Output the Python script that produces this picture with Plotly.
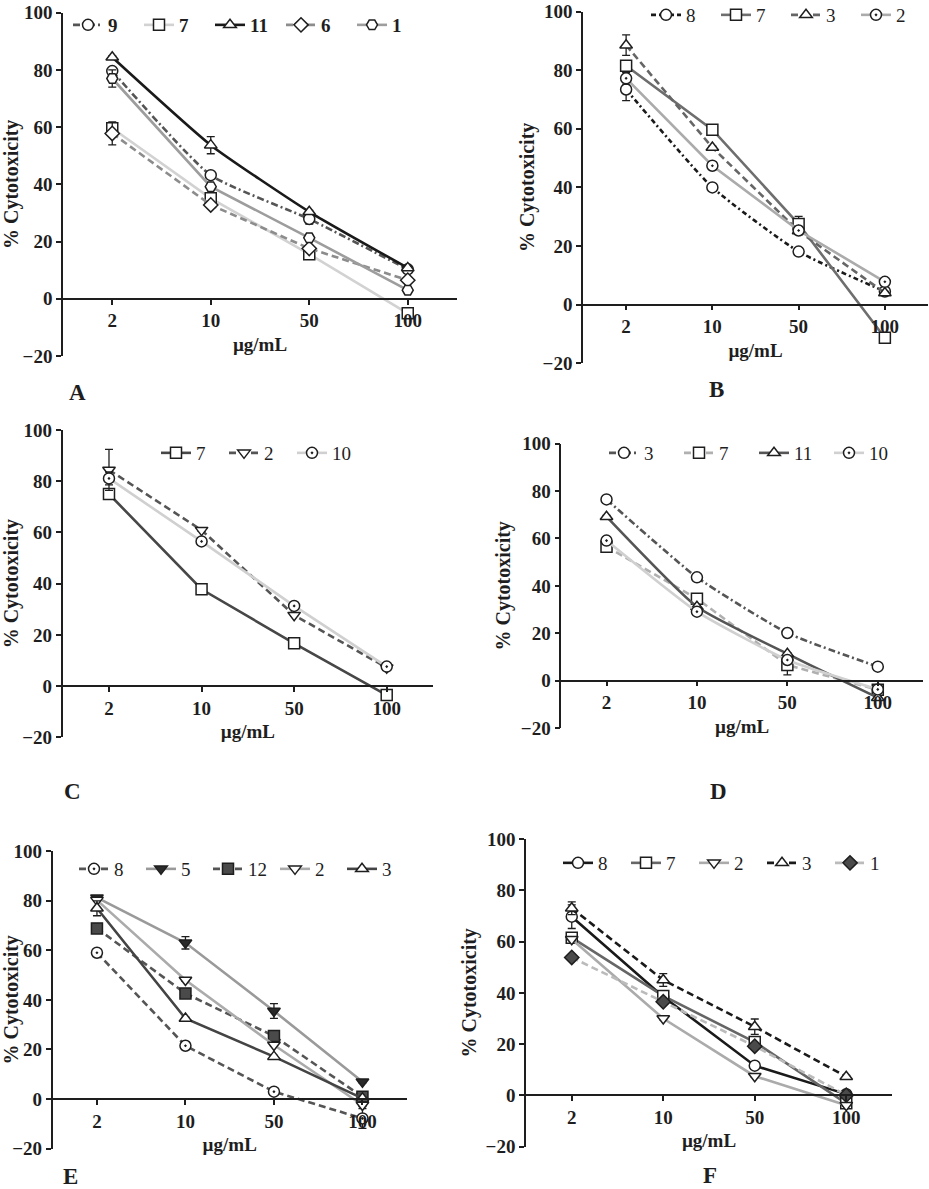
import plotly.graph_objects as go

W, H = 929, 1189
CONC = ["2", "10", "50", "100"]
Y_TICKS = [-20, 0, 20, 40, 60, 80, 100]

# ---------------- data (% cytotoxicity) ----------------
# Panel A
A_9 = [79.6, 43.2, 27.9, 10.3]
A_7 = [59.6, 35.1, 15.6, -5.1]
A_11 = [84.4, 53.7, 30.4, 10.8]
A_6 = [57.8, 32.8, 17.6, 6.5]
A_1 = [77.0, 39.2, 21.3, 3.0]
A_9_ERR = [1.0, 0.5, 1.8, 0.5]
A_7_ERR = [2.0, 0.5, 0.5, 0.5]
A_11_ERR = [0.5, 3.0, 0.5, 0.5]
A_6_ERR = [4.0, 0.5, 0.5, 0.5]
A_1_ERR = [3.0, 0.5, 0.5, 0.5]

# Panel B
B_8 = [73.4, 40.0, 18.1, 4.5]
B_7 = [81.5, 59.7, 27.5, -11.3]
B_3 = [88.5, 53.6, 25.1, 4.0]
B_2 = [77.2, 47.4, 25.3, 7.8]
B_8_ERR = [3.8, 0.5, 0.5, 0.5]
B_7_ERR = [1.0, 0.5, 2.6, 0.5]
B_3_ERR = [3.5, 0.5, 0.5, 0.5]
B_2_ERR = [2.0, 0.5, 0.5, 0.5]

# Panel C
C_7 = [75.0, 37.8, 16.7, -3.5]
C_2 = [84.4, 60.9, 27.7, 7.2]
C_10 = [81.1, 56.5, 31.3, 7.6]
C_7_ERR = [0.5, 0.5, 0.5, 0.5]
C_2_ERR = [8.0, 0.5, 0.5, 0.5]
C_10_ERR = [2.5, 0.5, 0.5, 0.5]

# Panel D
D_3 = [76.5, 43.6, 20.1, 5.9]
D_7 = [56.5, 34.6, 6.6, -3.9]
D_11 = [69.2, 31.2, 11.3, -7.2]
D_10 = [59.1, 29.1, 8.7, -3.7]
D_3_ERR = [0.5, 0.5, 0.5, 0.5]
D_7_ERR = [0.5, 0.5, 4.2, 0.5]
D_11_ERR = [0.5, 0.5, 0.5, 0.5]
D_10_ERR = [0.5, 0.5, 0.5, 0.5]

# Panel E
E_8 = [59.0, 21.5, 3.0, -7.8]
E_5 = [81.2, 63.0, 35.5, 7.0]
E_12 = [68.8, 42.6, 25.4, 0.9]
E_2 = [80.2, 48.0, 21.8, -2.4]
E_3 = [76.9, 32.5, 17.1, 0.3]
E_8_ERR = [0.5, 0.5, 0.5, 4.0]
E_5_ERR = [0.5, 2.5, 3.0, 0.5]
E_12_ERR = [0.5, 0.5, 0.5, 0.5]
E_2_ERR = [0.5, 0.5, 0.5, 0.5]
E_3_ERR = [3.0, 0.5, 0.5, 0.5]

# Panel F
F_8 = [69.7, 38.5, 11.6, 0.5]
F_7 = [61.5, 38.8, 20.8, -3.1]
F_2 = [60.9, 30.0, 7.5, -3.8]
F_3 = [73.0, 45.0, 26.8, 7.3]
F_1 = [53.8, 36.5, 19.2, 0.1]
F_8_ERR = [4.6, 0.5, 0.5, 0.5]
F_7_ERR = [0.5, 0.5, 0.5, 0.5]
F_2_ERR = [0.5, 0.5, 0.5, 0.5]
F_3_ERR = [2.5, 2.5, 3.0, 0.5]
F_1_ERR = [0.5, 0.5, 0.5, 0.5]

# ---------------- styles ----------------
DASHDOT = "7px,3px,2px,3px"
DENSE_DASHDOT = "5px,3px,2px,3px"
DASH = "7px,4px"

# (name, values, errors, line color, dash, symbol, marker fill, spline)
PANELS = {
    "A": dict(box=(63, 457, 12.7, 356), label=(77, 392), bold_legend=True,
              legend=(68, 25), entry=26, ystand=6,
              series=[("9", A_9, A_9_ERR, "#555555", DASHDOT, "circle", "white", True),
                      ("7", A_7, A_7_ERR, "#d2d2d2", "solid", "square", "white", False),
                      ("11", A_11, A_11_ERR, "#1a1a1a", "solid", "triangle-up", "white", True),
                      ("6", A_6, A_6_ERR, "#8c8c8c", DASH, "diamond", "white", False),
                      ("1", A_1, A_1_ERR, "#9d9d9d", "solid", "hexagon2", "white", False)]),
    "B": dict(box=(583, 928, 11.5, 363.3), label=(716, 389), bold_legend=False,
              legend=(646, 15), entry=25, ystand=3,
              series=[("8", B_8, B_8_ERR, "#1a1a1a", DENSE_DASHDOT, "circle", "white", True),
                      ("7", B_7, B_7_ERR, "#6e6e6e", "solid", "square", "white", False),
                      ("3", B_3, B_3_ERR, "#666666", DASH, "triangle-up", "white", False),
                      ("2", B_2, B_2_ERR, "#ababab", "solid", "circle-dot", "white", False)]),
    "C": dict(box=(62.7, 433, 430, 737.3), label=(72, 791), bold_legend=False,
              legend=(156, 453), entry=23, ystand=6,
              series=[("7", C_7, C_7_ERR, "#474747", "solid", "square", "white", False),
                      ("2", C_2, C_2_ERR, "#555555", DASH, "triangle-down", "white", False),
                      ("10", C_10, C_10_ERR, "#d0d0d0", "solid", "circle-dot", "white", False)]),
    "D": dict(box=(561.3, 923, 443.7, 728), label=(718, 791), bold_legend=False,
              legend=(604, 453), entry=30, ystand=5,
              series=[("3", D_3, D_3_ERR, "#555555", DASHDOT, "circle", "white", True),
                      ("7", D_7, D_7_ERR, "#b0b0b0", DASH, "square", "white", False),
                      ("11", D_11, D_11_ERR, "#555555", "solid", "triangle-up", "white", True),
                      ("10", D_10, D_10_ERR, "#d0d0d0", "solid", "circle-dot", "white", True)]),
    "E": dict(box=(52.7, 406.7, 851, 1148.7), label=(70, 1176), bold_legend=False,
              legend=(74, 869), entry=22, ystand=2,
              series=[("8", E_8, E_8_ERR, "#555555", DASH, "circle-dot", "white", False),
                      ("5", E_5, E_5_ERR, "#9a9a9a", "solid", "triangle-down", "#2a2a2a", False),
                      ("12", E_12, E_12_ERR, "#555555", DASH, "square", "#4a4a4a", False),
                      ("2", E_2, E_2_ERR, "#ababab", "solid", "triangle-down", "white", False),
                      ("3", E_3, E_3_ERR, "#444444", "solid", "triangle-up", "white", False)]),
    "F": dict(box=(526, 892, 839, 1146.7), label=(710, 1175), bold_legend=False,
              legend=(558, 863), entry=23, ystand=4,
              series=[("8", F_8, F_8_ERR, "#1a1a1a", "solid", "circle", "white", False),
                      ("7", F_7, F_7_ERR, "#666666", "solid", "square", "white", False),
                      ("2", F_2, F_2_ERR, "#ababab", "solid", "triangle-down", "white", False),
                      ("3", F_3, F_3_ERR, "#1a1a1a", DASH, "triangle-up", "white", False),
                      ("1", F_1, F_1_ERR, "#bbbbbb", DASH, "diamond", "#4a4a4a", False)]),
}

SERIF = "Liberation Serif"
INK = "#1e1e1e"
Y_MIN, Y_MAX = -20, 100


def px_x(v):
    return v / W


def px_y(v):
    return 1 - v / H


fig = go.Figure()
layout = dict(width=W, height=H,
              margin=dict(l=0, r=0, t=0, b=0, pad=0, autoexpand=False),
              paper_bgcolor="white", plot_bgcolor="white", showlegend=True,
              annotations=[])

for i, (key, p) in enumerate(PANELS.items(), start=1):
    x0, x1, ytop, ybot = p["box"]
    xd = [px_x(x0), px_x(x1)]
    yd = [px_y(ybot), px_y(ytop)]
    zero_pos = yd[0] + (0 - Y_MIN) / (Y_MAX - Y_MIN) * (yd[1] - yd[0])
    sfx = "" if i == 1 else str(i)
    leg = "legend" if i == 1 else f"legend{i}"
    for name, vals, err, col, dash, sym, fill, spline in p["series"]:
        fig.add_trace(go.Scatter(
            x=CONC, y=vals, name=name, mode="lines+markers",
            xaxis=f"x{sfx}", yaxis=f"y{sfx}", legend=leg, cliponaxis=False,
            line=dict(color=col, width=2.6, dash=dash,
                      shape="spline" if spline else "linear", smoothing=0.5),
            marker=dict(symbol=sym, size=11, color=fill,
                        line=dict(color=INK, width=1.5)),
            error_y=dict(type="data", array=err, visible=True, color=INK,
                         thickness=1.3, width=4),
        ))
    layout[f"xaxis{sfx}"] = dict(
        domain=xd, type="category", range=[-0.5, 3.5], anchor="free",
        position=zero_pos, showline=True, linecolor=INK, linewidth=1.6,
        ticks="outside", ticklen=5, tickwidth=1.5, tickcolor=INK,
        showgrid=False, zeroline=False, automargin=False,
        ticklabeloverflow="allow",
        tickfont=dict(family=SERIF, size=19, color=INK, weight="bold"),
        title=dict(text="µg/mL", standoff=6,
                   font=dict(family=SERIF, size=19, color=INK, weight="bold")),
    )
    layout[f"yaxis{sfx}"] = dict(
        domain=yd, range=[Y_MIN, Y_MAX], tickvals=Y_TICKS, anchor=f"x{sfx}",
        showline=True, linecolor=INK, linewidth=1.6,
        ticks="outside", ticklen=5, tickwidth=1.5, tickcolor=INK,
        showgrid=False, zeroline=False, automargin=False,
        ticklabeloverflow="allow",
        tickfont=dict(family=SERIF, size=19, color=INK, weight="bold"),
        title=dict(text="% Cytotoxicity", standoff=p["ystand"],
                   font=dict(family=SERIF, size=20, color=INK, weight="bold")),
    )
    lx, ly = p["legend"]
    layout[leg] = dict(
        orientation="h", x=px_x(lx), y=px_y(ly), xanchor="left", yanchor="middle",
        bgcolor="rgba(0,0,0,0)", itemwidth=30, entrywidth=p["entry"],
        entrywidthmode="pixels", tracegroupgap=0, itemclick=False,
        font=dict(family=SERIF, size=19, color=INK,
                  weight="bold" if p["bold_legend"] else "normal"),
    )
    cx, cy = p["label"]
    layout["annotations"].append(dict(
        text=key, x=px_x(cx), y=px_y(cy), xref="paper", yref="paper",
        showarrow=False, xanchor="center", yanchor="middle",
        font=dict(family=SERIF, size=23, color=INK, weight="bold")))

fig.update_layout(**layout)
fig.write_html("out.html", config={"displayModeBar": False},
               post_script="document.body.style.margin='0px';")
